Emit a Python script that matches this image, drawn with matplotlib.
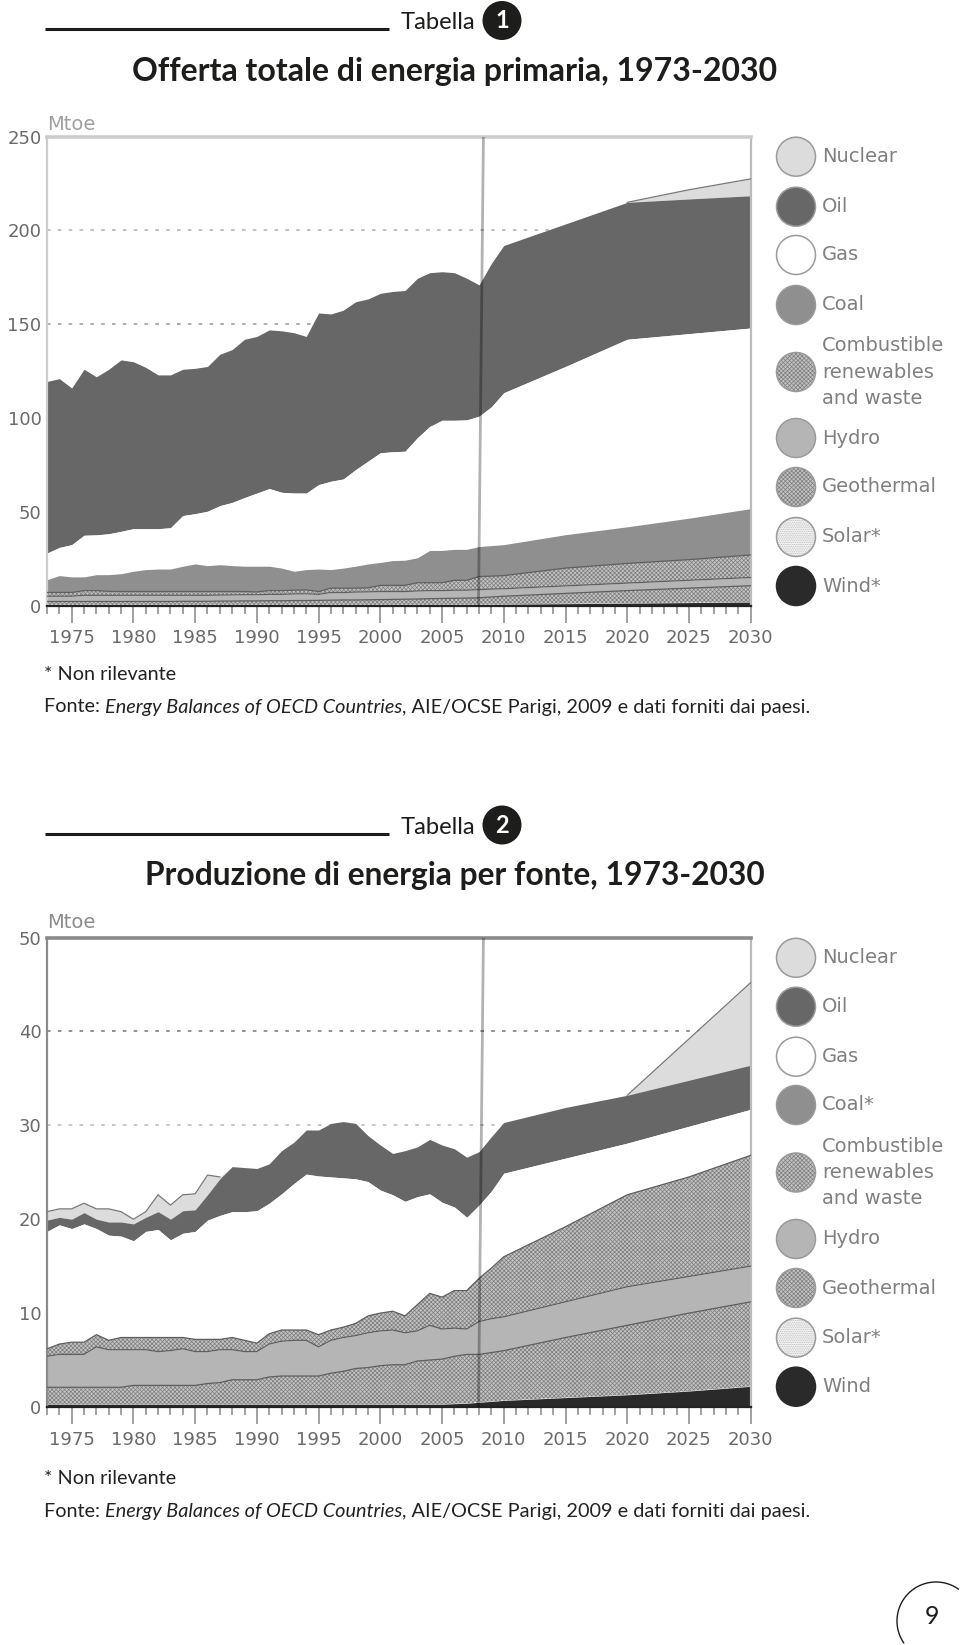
#!/usr/bin/env python3
"""Offerta totale di energia primaria e produzione di energia per fonte, 1973-2030."""

import matplotlib

matplotlib.use("Agg")
from matplotlib import pyplot as plt
from matplotlib.patches import Circle
import numpy as np

# --- data (stack tops, in Mtoe) ---
years = list(range(1973, 2011)) + [2015, 2020, 2025, 2030]
split_year = [2008.35, 2007.95]

t1_oil_top = [119.5, 121, 116, 126, 122, 126, 131, 130, 127, 123, 123, 126, 126.5, 127.5,
              134, 136.5, 142, 143.5, 147, 146.5, 145.5, 143.5, 156, 155.5, 157.5, 162,
              163.5, 166.5, 167.5, 168, 174.5, 177.5, 178, 177.5, 174.5, 171, 182.5, 192,
              203.5, 215, 216.8, 218.5]
t1_nuclear_top = t1_oil_top[:-2] + [221.7, 227.5]
t1_gas_top = [28, 31, 32.5, 37.5, 37.7, 38.3, 39.6, 41, 41, 41, 41.5, 48, 49, 50.3, 53.3,
              55, 57.6, 60, 62.4, 60.4, 60, 60, 64.5, 66.3, 67.5, 72.5, 77, 81.5, 82, 82.3,
              89.5, 95.5, 98.8, 98.8, 99, 101, 106, 113.5, 127.5, 142, 145, 148]
t1_coal_top = [13.8, 16, 15.3, 15.3, 16.5, 16.5, 17, 18.3, 19.2, 19.5, 19.5, 21, 22.2, 21.3,
               21.8, 21.3, 21, 21, 21, 20, 18.3, 19.2, 19.5, 19.2, 20, 21, 22.2, 23, 24,
               24.2, 25.5, 29.4, 29.4, 30, 30, 31.5, 32, 32.5, 37.8, 42, 46.6, 51.7]
t1_comb_top = [7, 7, 7, 8, 8, 7.6, 7.5, 7.5, 7.5, 7.5, 7.5, 7.5, 7.5, 7.5, 7.5, 7.5, 7.5,
               7.3, 8, 8, 8.2, 8.4, 7.5, 9.3, 9.3, 9.3, 9.5, 10.8, 10.8, 10.8, 12.2, 12.2,
               12.2, 13.5, 13.5, 15.5, 15.7, 16, 20, 22.5, 24.5, 27]
t1_hydro_top = [5, 5, 5, 5.5, 5.5, 5.5, 5.5, 5.5, 5.5, 5.5, 5.5, 5.5, 5.5, 5.5, 5.6, 5.7,
                5.8, 5.8, 6, 6, 6.2, 6.3, 6, 7, 7, 7.2, 7.3, 7.5, 7.5, 7.5, 7.8, 8, 8, 8.2,
                8.2, 8.5, 8.8, 9, 10.5, 12, 13.5, 15]
t1_geo_top = [2.2, 2.2, 2.2, 2.2, 2.2, 2.2, 2.2, 2.2, 2.2, 2.2, 2.2, 2.3, 2.3, 2.3, 2.4,
              2.4, 2.5, 2.5, 2.6, 2.6, 2.7, 2.7, 2.8, 2.9, 3, 3, 3.1, 3.2, 3.3, 3.4, 3.5,
              3.7, 3.8, 3.9, 4, 4.2, 4.6, 5, 6.5, 8, 9.3, 10.6]
t1_wind_top = [0.5] * 36 + [0.6, 0.7, 1.0, 1.3, 1.6, 1.9]

t2_oil_top = [19.9, 20.2, 20, 20.7, 20, 19.7, 19.7, 19.5, 20.2, 20.8, 20, 20.9, 21, 22.6,
              24.3, 25.6, 25.5, 25.4, 25.9, 27.3, 28.2, 29.5, 29.5, 30.2, 30.4, 30.2, 28.9,
              27.9, 27, 27.3, 27.7, 28.5, 27.9, 27.5, 26.6, 27.2, 28.8, 30.3,
              31.9, 33.2, 34.8, 36.4]
t2_nuclear_top = [20.8, 21.1, 21.1, 21.7, 21.1, 21.1, 20.8, 20, 20.8, 22.6, 21.5, 22.6,
                  22.7, 24.7, 24.5] + t2_oil_top[15:40] + [39.2, 45.2]
t2_gas_top = [18.7, 19.4, 19, 19.5, 19, 18.3, 18.2, 17.7, 18.7, 18.9, 17.8, 18.5, 18.7,
              19.9, 20.4, 20.8, 20.8, 20.9, 21.7, 22.7, 23.8, 24.8, 24.6, 24.5, 24.4, 24.3,
              24, 23.1, 22.6, 21.9, 22.4, 22.7, 21.8, 21.3, 20.2, 21.5, 23, 24.9,
              26.5, 28.1, 29.9, 31.7]
t2_comb_top = [6.2, 6.7, 6.9, 6.9, 7.7, 7.1, 7.4, 7.4, 7.4, 7.4, 7.4, 7.4, 7.2, 7.2, 7.2,
               7.4, 7.1, 6.8, 7.8, 8.2, 8.2, 8.2, 7.7, 8.2, 8.5, 8.9, 9.7, 10, 10.2, 9.7,
               10.9, 12.1, 11.7, 12.4, 12.4, 13.7, 14.8, 16, 19.2, 22.6, 24.5, 26.8]
t2_hydro_top = [5.4, 5.6, 5.6, 5.6, 6.4, 6.1, 6.1, 6.1, 6.1, 5.9, 6, 6.2, 5.9, 5.9, 6.1,
                6.1, 5.9, 5.9, 6.7, 7, 7.1, 7.1, 6.4, 7.1, 7.4, 7.6, 7.9, 8.1, 8.2, 7.9,
                8.1, 8.7, 8.3, 8.4, 8.3, 9.1, 9.4, 9.6, 11.2, 12.8, 13.9, 15]
t2_geo_top = [2.1, 2.1, 2.1, 2.1, 2.1, 2.1, 2.1, 2.3, 2.3, 2.3, 2.3, 2.3, 2.3, 2.5, 2.6,
              2.9, 2.9, 2.9, 3.2, 3.3, 3.3, 3.3, 3.3, 3.6, 3.8, 4.1, 4.2, 4.4, 4.5, 4.5,
              4.9, 5, 5.1, 5.4, 5.6, 5.6, 5.8, 6, 7.4, 8.7, 10, 11.2]
t2_wind_top = [0.3] * 33 + [0.35, 0.4, 0.5, 0.6, 0.7, 1.0, 1.3, 1.7, 2.2]

year_labels = [1975, 1980, 1985, 1990, 1995, 2000, 2005, 2010, 2015, 2020, 2025, 2030]
t1_yticks = [0, 50, 100, 150, 200, 250]
t2_yticks = [0, 10, 20, 30, 40, 50]
t1_legend = ["Nuclear", "Oil", "Gas", "Coal", "Combustible\nrenewables\nand waste",
             "Hydro", "Geothermal", "Solar*", "Wind*"]
t2_legend = ["Nuclear", "Oil", "Gas", "Coal*", "Combustible\nrenewables\nand waste",
             "Hydro", "Geothermal", "Solar*", "Wind"]

# legend swatches: face colour, hatch colour, hatch
swatches = [("#dcdcdc", None, None), ("#676767", None, None), ("#ffffff", None, None),
            ("#8f8f8f", None, None), ("#c2c2c2", "#7d7d7d", "xxxxxxxx"),
            ("#b5b5b5", None, None), ("#c2c2c2", "#7d7d7d", "xxxxxxxx"),
            ("#f4f4f4", "#b5b5b5", "........."), ("#2a2a2a", None, None)]

W, H = 960, 1645
SANS = "DejaVu Sans"
BODY = "Lato"

plt.rcParams["hatch.linewidth"] = 0.5


def hatched(ax, x, low, high):
    ax.fill_between(x, low, high, facecolor="#c2c2c2", edgecolor="#7d7d7d",
                    hatch="xxxxxxxx", linewidth=0, zorder=2)


def area_chart(fig, top, bottom, ymax, yticks, tops, gridcolors, framecolor):
    ax = fig.add_axes([47 / W, 1 - bottom / H, 703.7 / W, (bottom - top) / H])
    nuclear, oil, gas, coal, comb, hydro, geo, wind = [np.array(t, dtype=float) for t in tops]
    x = np.array(years)

    for y, c in gridcolors:
        ax.axhline(y, color=c, lw=1.3, ls=(0, (2, 4)), zorder=1)

    ax.fill_between(x, oil, nuclear, color="#dcdcdc", lw=0, zorder=2)
    ax.fill_between(x, gas, oil, color="#676767", lw=0, zorder=2)
    ax.fill_between(x, coal, gas, color="#ffffff", lw=0, zorder=2)
    ax.fill_between(x, comb, coal, color="#8f8f8f", lw=0, zorder=2)
    hatched(ax, x, hydro, comb)
    ax.fill_between(x, geo, hydro, color="#b5b5b5", lw=0, zorder=2)
    hatched(ax, x, wind, geo)
    ax.fill_between(x, 0, wind, color="#2a2a2a", lw=0, zorder=2)

    # outline the nuclear wedge, starting from the year before it opens
    shown = nuclear > oil
    shown[:-1] |= shown[1:]
    ax.plot(x, np.ma.masked_where(~shown, nuclear), color="#777777", lw=0.9, zorder=3)
    for line in (comb, hydro, geo):
        ax.plot(x, line, color="#5f5f5f", lw=0.9, zorder=3)

    ax.plot(split_year, [ymax, 0], color="black", alpha=0.3, lw=2, zorder=4)

    ax.set_xlim(1973, 2030)
    ax.set_ylim(0, ymax)
    ax.set_xticks(year_labels)
    ax.set_xticklabels(year_labels, fontsize=13, color="#6a6a6a", family=SANS)
    ax.set_xticks(years[:38] + [y for y in range(2011, 2030)], minor=True)
    ax.tick_params(axis="x", which="major", length=12, width=1.3, color="#999999", pad=5)
    ax.tick_params(axis="x", which="minor", length=5.5, width=1.3, color="#999999")
    ax.set_yticks(yticks)
    ax.set_yticklabels(yticks, fontsize=13, color="#6a6a6a", family=SANS)
    ax.tick_params(axis="y", length=0, pad=4)

    for side in ("top", "left", "right"):
        ax.spines[side].set_color(framecolor)
        ax.spines[side].set_linewidth(1.6)
    ax.spines["top"].set_linewidth(2.6)
    ax.spines["right"].set_color("#bbbbbb")
    ax.spines["bottom"].set_color("#222222")
    ax.spines["bottom"].set_linewidth(1.6)
    return ax


def fit_text(page, x, y, s, width, **kw):
    t = page.text(x, y, s, va="center", **kw)
    r = page.figure.canvas.get_renderer()
    t.set_fontsize(t.get_fontsize() * width / t.get_window_extent(r).width)
    return t


def header(page, ynum, ytitle, num, title, x0, x1):
    page.plot([44.5, 389], [ynum + 7.5, ynum + 7.5], color="#1d1d1b", lw=2.2, solid_capstyle="butt")
    fit_text(page, 401, ynum + 1, "Tabella", 75, family=BODY, color="#1d1d1b", fontsize=20)
    page.add_patch(Circle((502, ynum - 1), 19.5, fc="#1d1d1b", ec="none"))
    page.text(502, ynum - 0.5, num, color="white", fontsize=17, fontweight="bold",
              family=BODY, ha="center", va="center")
    fit_text(page, x0, ytitle, title, x1 - x0, family=BODY, fontweight="bold",
             color="#1d1d1b", fontsize=20)


def footer(page, y1, y2):
    page.text(44, y1, "* Non rilevante", family=BODY, fontsize=14.3,
              color="#222222", va="baseline")
    x = 44
    r = page.figure.canvas.get_renderer()
    for s, style in (("Fonte: ", "normal"), ("Energy Balances of OECD Countries", "italic"),
                     (", AIE/OCSE Parigi, 2009 e dati forniti dai paesi.", "normal")):
        t = page.text(x, y2, s, family=BODY, fontsize=14.3, style=style,
                      color="#222222", va="baseline")
        x = t.get_window_extent(r).x1


def legend(page, labels, ys):
    for label, y, (face, hcol, hatch) in zip(labels, ys, swatches):
        if hatch:
            page.add_patch(Circle((796, y), 19.5, fc=face, ec=hcol, hatch=hatch, lw=0))
        else:
            page.add_patch(Circle((796, y), 19.5, fc=face, ec="none"))
        ring = "#2a2a2a" if face == "#2a2a2a" else "#9a9a9a"
        page.add_patch(Circle((796, y), 19.5, fc="none", ec=ring, lw=1.1))
        page.text(822, y, label, fontsize=14, color="#808080", family=SANS,
                  va="center", linespacing=1.5)


def main():
    fig = plt.figure(figsize=(W / 100, H / 100), dpi=100)
    page = fig.add_axes([0, 0, 1, 1], zorder=5)
    page.set_xlim(0, W)
    page.set_ylim(H, 0)
    page.axis("off")
    page.patch.set_alpha(0)

    area_chart(fig, 136.7, 605.6, 250, t1_yticks,
               (t1_nuclear_top, t1_oil_top, t1_gas_top, t1_coal_top, t1_comb_top,
                t1_hydro_top, t1_geo_top, t1_wind_top),
               [(150, "#a8a8a8"), (200, "#bbbbbb")], "#cccccc")
    # coal is not relevant in the second chart: its top coincides with the combustibles
    area_chart(fig, 937.5, 1407, 50, t2_yticks,
               (t2_nuclear_top, t2_oil_top, t2_gas_top, t2_comb_top, t2_comb_top,
                t2_hydro_top, t2_geo_top, t2_wind_top),
               [(30, "#c4c4c4"), (40, "#8a8a8a")], "#8a8a8a")

    header(page, 21.5, 71, "1", "Offerta totale di energia primaria, 1973-2030", 132, 778)
    header(page, 826, 875, "2", "Produzione di energia per fonte, 1973-2030", 145, 766)
    footer(page, 679.5, 712.5)
    footer(page, 1484, 1517)

    page.text(47, 124, "Mtoe", fontsize=14, color="#a0a0a0", family=SANS, va="center")
    page.text(47, 923, "Mtoe", fontsize=14, color="#8c8c8c", family=SANS, va="center")

    legend(page, t1_legend, [156.7, 206.7, 255, 305, 372, 438, 487, 537, 586])
    legend(page, t2_legend, [957.8, 1006.7, 1056.7, 1105, 1172.5, 1239, 1288, 1337.7, 1386.7])

    # page number in its open circle
    theta = np.radians(np.linspace(55, 214, 80))
    page.plot(936 + 39 * np.cos(theta), 1621 - 39 * np.sin(theta), color="#1d1d1b", lw=1)
    page.text(931.5, 1616, "9", fontsize=18, family=BODY, color="#1d1d1b",
              ha="center", va="center")

    fig.savefig("out.png", dpi=100, facecolor="white")


if __name__ == "__main__":
    main()
